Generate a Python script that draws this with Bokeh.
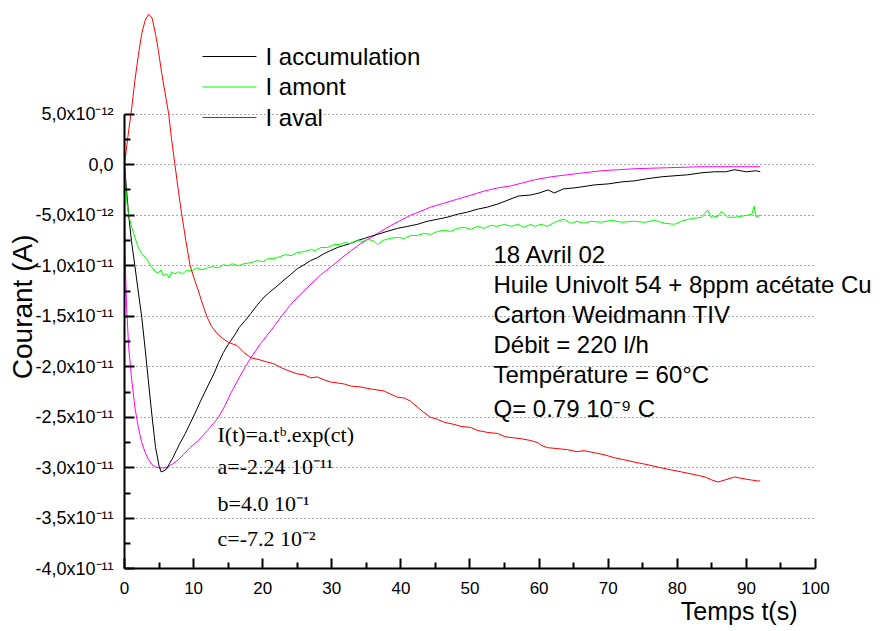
import math
from bokeh.plotting import figure
from bokeh.models import FixedTicker, Label
from bokeh.embed import file_html
from bokeh.resources import INLINE

# ---------------- data (currents in pA = 1e-12 A, time in s) ----------------
t_acc = [0, 0.3, 0.6, 1.0, 1.5, 2.0, 2.5, 3.0, 3.5, 4.0, 4.5, 5.0, 5.3, 5.7, 6.1, 6.5,
         7.0, 7.5, 8.0, 8.8, 9.5, 10.2, 11.0, 12.2, 13.0, 13.6, 14.3, 15.0, 15.4, 16.0,
         16.6, 17.5, 18.3, 19.2, 20.2, 21.2, 22.1, 23.1, 24.0, 25.0, 26.0, 26.9, 27.9,
         28.9, 29.8, 30.8, 31.7, 32.7, 33.7, 34.7, 35.6, 36.6, 38.0, 39.5, 41.0, 42.4,
         43.8, 45.3, 46.7, 48.2, 49.6, 51.1, 52.5, 54.0, 55.5, 57.0, 58.8, 60.0, 61.3,
         62.2, 63.5, 65.0, 66.1, 68.0, 70.0, 72.0, 73.8, 75.5, 77.7, 79.5, 81.5, 83.5,
         85.4, 87.0, 88.3, 90.0, 91.4, 92.0]
i_acc = [0, -2.5, -5.0, -7.5, -10.0, -12.6, -15.1, -18.3, -21.7, -25.0, -28.0, -29.8,
         -30.4, -30.3, -30.1, -29.6, -29.0, -28.3, -27.6, -26.6, -25.6, -24.6, -23.4,
         -21.7, -20.6, -19.6, -18.6, -17.8, -17.4, -16.8, -16.1, -15.4, -14.7, -13.9,
         -13.1, -12.5, -12.0, -11.4, -10.9, -10.3, -9.9, -9.5, -9.2, -8.8, -8.5, -8.2,
         -8.0, -7.8, -7.5, -7.3, -7.1, -6.9, -6.6, -6.3, -6.1, -5.9, -5.6, -5.4, -5.2,
         -4.9, -4.7, -4.4, -4.2, -3.9, -3.5, -3.1, -3.0, -2.8, -2.5, -2.8, -2.4, -2.3,
         -2.2, -2.0, -1.9, -1.7, -1.6, -1.4, -1.2, -1.1, -1.0, -0.8, -0.7, -0.7, -0.5,
         -0.7, -0.6, -0.7]

t_amont = [0, 0.3, 0.6, 1.06, 1.5, 2.0, 2.6, 3.2, 3.6, 4.0, 4.5, 4.9, 5.3, 5.6, 6.1, 6.5,
           6.8, 7.3, 7.8, 8.4, 8.9, 9.8, 10.5, 11.2, 12.0, 12.7, 13.5, 14.3, 15.0, 15.6,
           16.5, 17.3, 18.3, 19.2, 20.0, 20.8, 21.6, 22.5, 23.3, 24.1, 25.0, 26.0, 26.9,
           27.6, 28.4, 29.4, 30.3, 31.3, 31.8, 32.7, 33.7, 34.5, 35.1, 36.0, 36.6, 37.4,
           38.3, 39.5, 40.5, 41.4, 42.4, 43.3, 44.3, 45.3, 46.3, 47.2, 48.2, 49.2, 50.1,
           51.1, 52.0, 53.0, 54.0, 55.0, 56.0, 56.9, 57.8, 58.8, 59.3, 60.3, 61.2, 62.2,
           63.6, 64.6, 65.5, 66.5, 67.5, 69.0, 70.5, 71.9, 73.8, 75.3, 76.7, 78.2, 79.6,
           80.6, 81.6, 82.5, 83.5, 84.4, 84.9, 85.9, 86.4, 87.3, 88.3, 89.3, 90.2, 90.8,
           91.1, 91.4, 92.0]
i_amont = [-0.5, -3.5, -5.0, -6.2, -7.2, -8.2, -8.9, -9.3, -9.8, -10.2, -10.6, -10.7,
           -10.4, -11.0, -10.8, -11.2, -10.6, -10.8, -10.6, -10.8, -10.5, -10.5, -10.2,
           -10.4, -10.2, -10.1, -10.2, -9.9, -10.0, -9.8, -10.0, -9.8, -9.7, -9.5, -9.6,
           -9.3, -9.3, -9.1, -8.9, -9.0, -8.7, -8.6, -8.4, -8.5, -8.2, -8.2, -7.9, -7.9,
           -7.7, -7.8, -7.5, -7.6, -7.4, -7.5, -7.9, -7.5, -7.3, -7.2, -7.3, -7.0, -7.0,
           -6.8, -6.9, -6.6, -6.5, -6.6, -6.3, -6.2, -6.4, -6.1, -6.3, -6.0, -6.1, -5.9,
           -6.1, -5.9, -6.2, -5.9, -6.1, -5.9, -6.1, -5.7, -5.4, -5.8, -5.6, -5.8, -5.6,
           -5.7, -5.5, -5.7, -5.6, -5.7, -5.5, -5.8, -5.9, -5.6, -5.4, -5.3, -5.2, -4.5,
           -5.2, -5.1, -4.6, -5.2, -5.2, -5.1, -5.0, -4.9, -4.1, -5.2, -5.0]

t_aval = [0, 0.5, 1.06, 1.5, 2.0, 2.5, 3.0, 3.5, 4.0, 4.5, 4.9, 5.4, 5.9, 6.4, 6.8, 7.3,
          7.8, 8.3, 8.9, 9.5, 10.1, 10.7, 11.3, 11.9, 12.6, 13.4, 14.2, 15.1, 16.3, 17.3,
          18.3, 19.5, 20.5, 21.6, 22.7, 23.8, 25.0, 26.0, 27.0, 27.9, 28.9, 29.8, 30.8,
          31.8, 32.7, 34.2, 35.7, 37.6, 38.5, 39.5, 40.5, 41.4, 42.4, 43.3, 44.3, 45.3,
          46.3, 47.7, 48.7, 50.1, 51.1, 52.6, 54.0, 55.0, 55.9, 57.3, 58.8, 59.8, 60.4,
          61.2, 62.7, 64.1, 65.5, 66.5, 68.0, 69.4, 70.9, 72.3, 74.3, 75.8, 77.7, 79.1,
          80.6, 82.0, 84.0, 85.0, 85.9, 86.9, 88.3, 89.0, 89.8, 90.7, 91.7, 92.0]
i_aval = [0.0, 2.8, 5.7, 8.3, 10.8, 13.0, 14.3, 14.9, 14.5, 12.9, 11.3, 9.0, 7.0, 5.0,
          2.6, 0.0, -2.6, -5.0, -7.6, -10.0, -11.3, -12.5, -13.8, -15.0, -16.0, -16.7,
          -17.2, -17.6, -17.9, -18.6, -19.1, -19.3, -19.5, -19.7, -20.1, -20.4, -20.7,
          -20.8, -21.1, -21.0, -21.3, -21.5, -21.6, -21.7, -21.9, -22.0, -22.2, -22.4,
          -22.7, -23.0, -23.1, -23.4, -24.0, -24.5, -25.0, -25.2, -25.5, -25.7, -25.9,
          -26.0, -26.3, -26.5, -26.6, -26.9, -27.0, -27.1, -27.3, -27.5, -27.8, -28.0,
          -28.1, -28.2, -28.4, -28.3, -28.5, -28.7, -29.0, -29.2, -29.5, -29.7, -30.0,
          -30.2, -30.4, -30.6, -30.9, -31.2, -31.4, -31.2, -30.9, -31.0, -31.1, -31.2,
          -31.3, -31.3]

t_fit = [0, 0.1, 0.3, 0.6, 1.0, 1.5, 2.0, 2.5, 3.0, 3.5, 4.0, 4.5, 5.0, 5.5, 6.0, 6.5,
         7.0, 7.8, 8.5, 9.5, 10.7, 12.0, 13.0, 13.6, 14.5, 15.4, 16.5, 17.4, 18.3, 19.7,
         21.2, 22.6, 24.1, 25.5, 27.0, 28.4, 29.9, 31.3, 32.8, 34.2, 35.7, 37.1, 38.6,
         40.0, 41.4, 42.9, 44.3, 46.3, 48.2, 50.2, 52.1, 54.0, 55.9, 57.6, 59.3, 61.7,
         64.1, 66.5, 69.0, 71.4, 73.8, 76.2, 78.6, 81.0, 83.5, 85.9, 88.3, 90.2, 92.0]
i_fit = [0, -9.5, -14.0, -18.0, -21.0, -24.0, -26.0, -27.5, -28.5, -29.2, -29.7, -29.9,
         -30.0, -30.0, -30.0, -29.8, -29.6, -29.2, -28.7, -28.0, -27.3, -26.3, -25.5,
         -25.0, -23.9, -22.6, -21.2, -20.1, -19.1, -17.7, -16.4, -15.1, -13.8, -12.8,
         -11.8, -10.9, -10.1, -9.3, -8.5, -7.8, -7.2, -6.6, -6.0, -5.5, -5.0, -4.6,
         -4.2, -3.8, -3.4, -3.0, -2.6, -2.3, -2.1, -1.8, -1.5, -1.2, -1.0, -0.8, -0.6,
         -0.5, -0.4, -0.35, -0.3, -0.25, -0.2, -0.2, -0.2, -0.2, -0.2]

series_labels = ["I accumulation", "I amont", "I aval"]
series_colors = ["#000000", "#00ff00", "#ff0000"]
fit_color = "#ff00ff"

x_ticks = [0, 10, 20, 30, 40, 50, 60, 70, 80, 90, 100]
x_minor = [5, 15, 25, 35, 45, 55, 65, 75, 85, 95]
y_ticks = [5, 0, -5, -10, -15, -20, -25, -30, -35, -40]
y_tick_labels = ["5,0x10\u207b\u00b9\u00b2", "0,0", "-5,0x10\u207b\u00b9\u00b2",
                 "-1,0x10\u207b\u00b9\u00b9", "-1,5x10\u207b\u00b9\u00b9",
                 "-2,0x10\u207b\u00b9\u00b9", "-2,5x10\u207b\u00b9\u00b9",
                 "-3,0x10\u207b\u00b9\u00b9", "-3,5x10\u207b\u00b9\u00b9",
                 "-4,0x10\u207b\u00b9\u00b9"]
y_minor = [2.5, -2.5, -7.5, -12.5, -17.5, -22.5, -27.5, -32.5, -37.5]

info_lines = ["18 Avril 02", "Huile Univolt 54 + 8ppm acétate Cu",
              "Carton Weidmann TIV", "Débit = 220 l/h", "Température = 60°C",
              "Q= 0.79 10\u207b\u2079 C"]
fit_lines = ["I(t)=a.t\u1d47.exp(ct)", "a=-2.24 10\u207b\u00b9\u00b9",
             "b=4.0 10\u207b\u00b9", "c=-7.2 10\u207b\u00b2"]

SANS = "Liberation Sans"
SERIF = "Liberation Serif"

# legend layout (position of the key block, in plot coordinates)
LEG_XC, LEG_W, LEG_TXT_X = 15.195, 7.81, 20.41
LEG_ROW_Y = [10.71, 7.69, 4.67]
LEG_KEY_H = 0.11

# ---------------- figure: frame = whole canvas, axes placed at fixed positions ----------------
p = figure(width=880, height=628, x_range=(-17.945, 109.41), y_range=(-45.898, 16.249),
           output_backend="svg", toolbar_location=None,
           min_border_left=0, min_border_right=0, min_border_top=0,
           min_border_bottom=0)
p.outline_line_color = None
p.background_fill_color = "white"
p.border_fill_color = "white"

# data
p.line(t_fit, i_fit, line_color=fit_color, line_width=1)
series = [(t_acc, i_acc), (t_amont, i_amont), (t_aval, i_aval)]
for (tt, ii), col in zip(series, series_colors):
    p.line(tt, ii, line_color=col, line_width=1)

# legend keys as thin filled bars (one renderer per key)
for col, yy in zip(series_colors, LEG_ROW_Y):
    p.rect(x=[LEG_XC], y=[yy], width=LEG_W, height=LEG_KEY_H,
           fill_color=col, line_color=None)

for lab, yy in zip(series_labels, LEG_ROW_Y):
    p.add_layout(Label(x=LEG_TXT_X, y=yy, text=lab, text_align="left",
                       text_baseline="alphabetic", text_font=SANS,
                       text_font_size="24px", text_color="black"))

# axes
xa = p.xaxis[0]
xa.ticker = FixedTicker(ticks=x_ticks, minor_ticks=x_minor)
xa.bounds = (0, 100)
xa.fixed_location = -40
ya = p.yaxis[0]
ya.ticker = FixedTicker(ticks=y_ticks, minor_ticks=y_minor)
ya.bounds = (-40, 5)
ya.fixed_location = 0
ya.major_label_overrides = {v: s for v, s in zip(y_ticks, y_tick_labels)}
for ax in (xa, ya):
    ax.axis_line_width = 2
    ax.axis_line_color = "black"
    ax.major_tick_line_width = 2
    ax.minor_tick_line_width = 2
    ax.major_tick_in = 10
    ax.major_tick_out = 0
    ax.minor_tick_in = 6
    ax.minor_tick_out = 0
    ax.major_label_text_font = SANS
    ax.major_label_text_color = "black"
xa.major_label_text_font_size = "17px"
ya.major_label_text_font_size = "18px"
xa.major_label_standoff = 13
ya.major_label_standoff = 11

p.xgrid.visible = False
p.ygrid.grid_line_color = "#555555"
p.ygrid.grid_line_dash = "1 3"
p.ygrid.grid_line_width = 1
p.ygrid.bounds = (-37.5, 2.5)
p.ygrid.cross_bounds = (0, 100)

# axis titles
p.add_layout(Label(x=-14.7, y=-14.07, text="Courant (A)", angle=math.pi / 2,
                   text_align="center", text_baseline="middle",
                   text_font=SANS, text_font_size="28px", text_color="black"))
p.add_layout(Label(x=97.4, y=-44.21, text="Temps t(s)", text_align="right",
                   text_baseline="alphabetic", text_font=SANS,
                   text_font_size="25px", text_color="black"))

# info block
info_y = [-8.89, -11.86, -14.83, -17.79, -20.76, -24.13]
for txt, yy in zip(info_lines, info_y):
    p.add_layout(Label(x=53.4, y=yy, text=txt, text_align="left",
                       text_baseline="alphabetic", text_font=SANS,
                       text_font_size="24px", text_color="black"))

fit_y = [-26.70, -29.87, -33.53, -37.00]
for txt, yy in zip(fit_lines, fit_y):
    p.add_layout(Label(x=13.46, y=yy, text=txt, text_align="left",
                       text_baseline="alphabetic", text_font=SERIF,
                       text_font_size="22px", text_color="black"))

open("out.html", "w").write(file_html(p, INLINE))
